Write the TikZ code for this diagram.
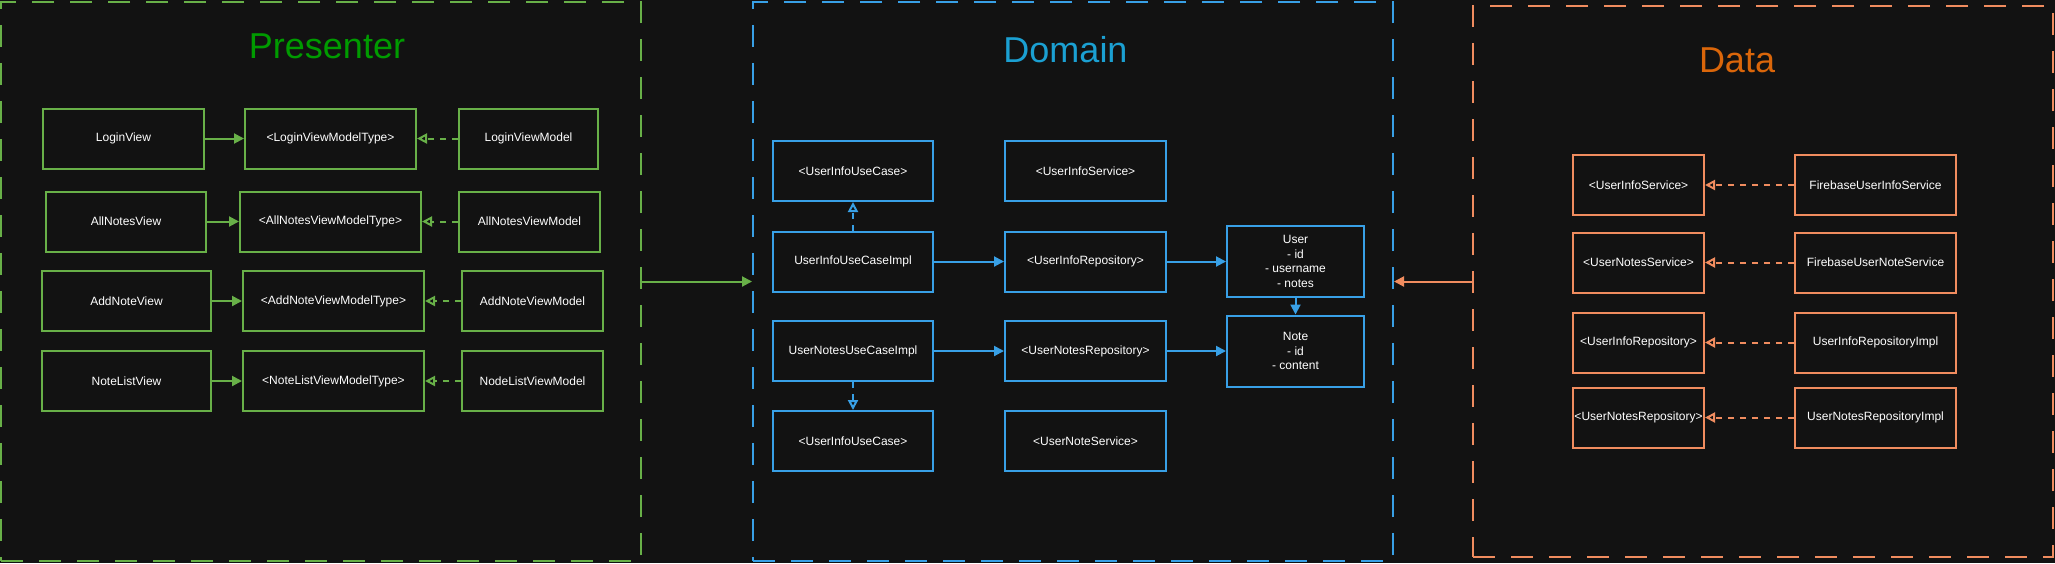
\documentclass[tikz,border=0pt]{standalone}
\usepackage{fontspec}
\setmainfont{Liberation Sans}
\usepackage{xcolor}
\usepackage{tikz}
\usetikzlibrary{
  arrows.meta,
  positioning
}
\definecolor{bgdark}{RGB}{18,18,18}
\definecolor{presgreen}{RGB}{0,155,0}
\definecolor{boxgreen}{RGB}{104,176,72}
\definecolor{domainblue}{RGB}{27,160,210}
\definecolor{boxblue}{RGB}{56,160,230}
\definecolor{dataorange}{RGB}{218,102,10}
\definecolor{boxorange}{RGB}{240,140,95}

\begin{document}
\begin{tikzpicture}[
  x=0.5pt, y=-0.5pt,
  classbox/.style={draw, line width=1pt, minimum height=30pt, inner xsep=0pt,
               align=center, text=white, font=\fontsize{6}{7.2}\selectfont},
  pbox/.style={classbox, draw=boxgreen},
  dbox/.style={classbox, draw=boxblue},
  obox/.style={classbox, draw=boxorange},
  layer/.style={draw, line width=1pt, dash pattern=on 11pt off 8pt, inner sep=0pt,
               minimum width=320pt, minimum height=279.5pt},
  layertitle/.style={font=\fontsize{18}{20}\selectfont, inner sep=0pt},
  uses/.style={-{Triangle[length=5pt,width=5pt]}, line width=1pt},
  impl/.style={-{Triangle[open,length=5pt,width=5pt]}, line width=1pt,
               dash pattern=on 3pt off 3pt}
]
  \useasboundingbox (0,0) rectangle (2055,563);
  \fill[bgdark] (0,0) rectangle (2055,563);

  \node[layer, draw=boxgreen] (presenter) at (321,281.5) {};
  \node[layer, draw=boxblue] (domain) at (1073,281.5) {};
  \node[layer, draw=boxorange, minimum width=290pt, minimum height=275.5pt] (data) at (1763,281.5) {};

  \node[layertitle, text=presgreen] (presentertitle) at (327,46) {Presenter};
  \node[layertitle, text=domainblue] (domaintitle) at (1065.5,50) {Domain};
  \node[layertitle, text=dataorange] (datatitle) at (1737,60) {Data};

  \node[pbox, minimum width=80.5pt] (loginview) at (123.5,138.5) {LoginView};
  \node[pbox, minimum width=85.5pt, right=19.5pt of loginview] (loginvmtype) {<LoginViewModelType>};
  \node[pbox, minimum width=69.5pt, right=20.5pt of loginvmtype] (loginvm) {LoginViewModel};
  \node[pbox, minimum width=80pt] (allnotesview) at (126,221.5) {AllNotesView};
  \node[pbox, minimum width=90.5pt, right=16pt of allnotesview] (allnotesvmtype) {<AllNotesViewModelType>};
  \node[pbox, minimum width=70.5pt, right=18pt of allnotesvmtype] (allnotesvm) {AllNotesViewModel};
  \node[pbox, minimum width=84.5pt] (addnoteview) at (126.5,301) {AddNoteView};
  \node[pbox, minimum width=90.5pt, right=15pt of addnoteview] (addnotevmtype) {<AddNoteViewModelType>};
  \node[pbox, minimum width=70.5pt, right=18pt of addnotevmtype] (addnotevm) {AddNoteViewModel};
  \node[pbox, minimum width=84.5pt] (notelistview) at (126.5,381) {NoteListView};
  \node[pbox, minimum width=90.5pt, right=15pt of notelistview] (notelistvmtype) {<NoteListViewModelType>};
  \node[pbox, minimum width=70.5pt, right=18pt of notelistvmtype] (notelistvm) {NodeListViewModel};

  \node[dbox, minimum width=80pt] (infousecase) at (853,171) {<UserInfoUseCase>};
  \node[dbox, minimum width=80.5pt, right=35pt of infousecase] (infoservice) {<UserInfoService>};
  \node[dbox, minimum width=80pt] (infoimpl) at (853,261.5) {UserInfoUseCaseImpl};
  \node[dbox, minimum width=80.5pt, right=35pt of infoimpl] (inforepo) {<UserInfoRepository>};
  \node[dbox, minimum width=68.5pt, minimum height=35.5pt, right=29.5pt of inforepo] (user) {User\\- id\\- username\\- notes};
  \node[dbox, minimum width=80pt] (notesimpl) at (853,351) {UserNotesUseCaseImpl};
  \node[dbox, minimum width=80.5pt, right=35pt of notesimpl] (notesrepo) {<UserNotesRepository>};
  \node[dbox, minimum width=68.5pt, minimum height=35.5pt, right=29.5pt of notesrepo] (note) {Note\\- id\\- content};
  \node[dbox, minimum width=80pt] (infousecasetwo) at (853,441) {<UserInfoUseCase>};
  \node[dbox, minimum width=80.5pt, right=35pt of infousecasetwo] (noteservice) {<UserNoteService>};

  \node[obox, minimum width=65.5pt] (dinfoservice) at (1638.5,185) {<UserInfoService>};
  \node[obox, minimum width=80.5pt, right=44.5pt of dinfoservice] (fbinfoservice) {FirebaseUserInfoService};
  \node[obox, minimum width=65.5pt] (dnotesservice) at (1638.5,262.5) {<UserNotesService>};
  \node[obox, minimum width=80.5pt, right=44.5pt of dnotesservice] (fbnoteservice) {FirebaseUserNoteService};
  \node[obox, minimum width=65.5pt] (dinforepo) at (1638.5,342.5) {<UserInfoRepository>};
  \node[obox, minimum width=80.5pt, right=44.5pt of dinforepo] (inforepoimpl) {UserInfoRepositoryImpl};
  \node[obox, minimum width=65.5pt] (dnotesrepo) at (1638.5,417.5) {<UserNotesRepository>};
  \node[obox, minimum width=80.5pt, right=44.5pt of dnotesrepo] (notesrepoimpl) {UserNotesRepositoryImpl};

  \draw[uses, boxgreen] (loginview) -- (loginvmtype);
  \draw[uses, boxgreen] (allnotesview) -- (allnotesvmtype);
  \draw[uses, boxgreen] (addnoteview) -- (addnotevmtype);
  \draw[uses, boxgreen] (notelistview) -- (notelistvmtype);
  \draw[impl, boxgreen] (loginvm) -- (loginvmtype);
  \draw[impl, boxgreen] (allnotesvm) -- (allnotesvmtype);
  \draw[impl, boxgreen] (addnotevm) -- (addnotevmtype);
  \draw[impl, boxgreen] (notelistvm) -- (notelistvmtype);

  \draw[impl, boxblue] (infoimpl) -- (infousecase);
  \draw[impl, boxblue] (notesimpl) -- (infousecasetwo);
  \draw[uses, boxblue] (infoimpl) -- (inforepo);
  \draw[uses, boxblue] (inforepo) -- (user);
  \draw[uses, boxblue] (notesimpl) -- (notesrepo);
  \draw[uses, boxblue] (notesrepo) -- (note);
  \draw[uses, boxblue] (user) -- (note);

  \draw[impl, boxorange] (fbinfoservice) -- (dinfoservice);
  \draw[impl, boxorange] (fbnoteservice) -- (dnotesservice);
  \draw[impl, boxorange] (inforepoimpl) -- (dinforepo);
  \draw[impl, boxorange] (notesrepoimpl) -- (dnotesrepo);

  \draw[uses, boxgreen] (presenter.east) -- (domain.west);
  \draw[uses, boxorange] (data.west) -- (domain.east);
\end{tikzpicture}
\end{document}
